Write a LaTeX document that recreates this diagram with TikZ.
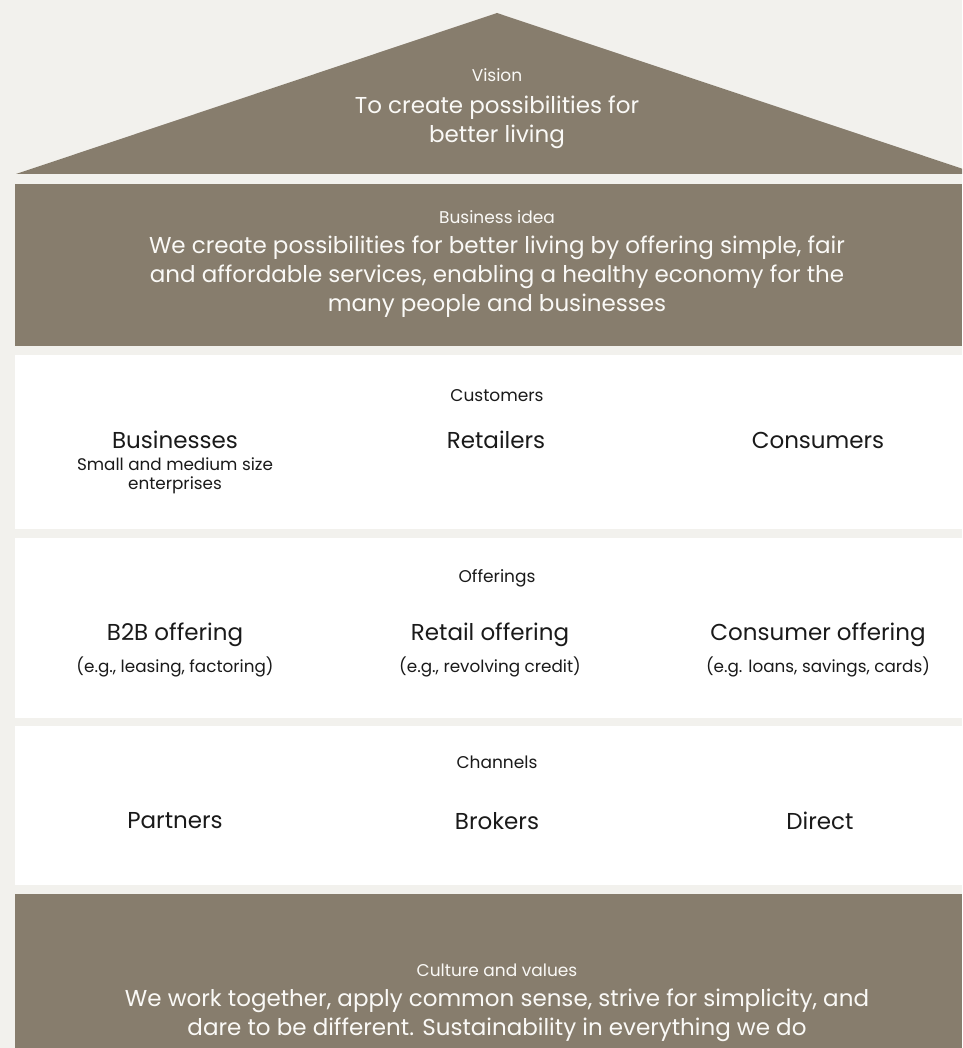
\documentclass[tikz,border=0pt]{standalone}
\usepackage{fontspec}
\setmainfont{Poppins}
\definecolor{bg}{HTML}{F2F1ED}
\definecolor{brown}{HTML}{877D6D}
\definecolor{ink}{HTML}{1A1A1A}
\definecolor{light}{HTML}{FAF9F6}
\begin{document}
\begin{tikzpicture}[x=1pt,y=-1pt,
  band/.style={fill=brown,draw=none},
  whiteband/.style={fill=white,draw=none},
  lbl/.style={inner sep=0pt,font=\fontsize{17}{20}\selectfont},
  big/.style={inner sep=0pt,align=center,font=\fontsize{23}{29}\selectfont},
  item/.style={inner sep=0pt,align=center,font=\fontsize{23}{29}\selectfont,text=ink},
  sub/.style={inner sep=0pt,align=center,font=\fontsize{16.8}{19.5}\selectfont,text=ink}]
\fill[bg] (0,0) rectangle (962,1048);
\useasboundingbox (0,0) rectangle (962,1048);
\begin{scope}
\clip (0,0) rectangle (962,1048);
\fill[brown] (16,174) -- (497,13) -- (978,174) -- cycle;
\end{scope}
\fill[band] (15,184) rectangle (962,346);
\fill[whiteband] (15,355) rectangle (962,529);
\fill[whiteband] (15,538) rectangle (962,718);
\fill[whiteband] (15,726) rectangle (962,885);
\fill[band] (15,894) rectangle (962,1048);
% Vision
\node[lbl,text=light] (vislbl) at (497,75) {Vision};
\node[big,text=light] (vis) at (497,122) {To create possibilities for\\better living};
% Business idea
\node[lbl,text=light] (bilbl) at (497,217) {Business idea};
\node[big,text=light] (bi) at (497,277) {We create possibilities for better living by offering simple, fair\\and affordable services, enabling a healthy economy for the\\many people and businesses};
% Customers
\node[lbl,text=ink] (custlbl) at (497,396) {Customers};
\node[item] (bus) at (175,440) {Businesses};
\node[sub] (busd) at (175,476) {Small and medium size\\enterprises};
\node[item] (ret) at (496,440) {Retailers};
\node[item] (con) at (818,440) {Consumers};
% Offerings
\node[lbl,text=ink] (offlbl) at (497,578) {Offerings};
\node[item] (b2b) at (175,635) {B2B offering};
\node[sub] (b2bd) at (175,667) {(e.g., leasing, factoring)};
\node[item] (reto) at (490,635) {Retail offering};
\node[sub] (retod) at (490,667) {(e.g., revolving credit)};
\node[item] (cono) at (818,635) {Consumer offering};
\node[sub] (conod) at (818,667) {(e.g. loans, savings, cards)};
% Channels
\node[lbl,text=ink] (chlbl) at (497,762) {Channels};
\node[item] (par) at (175,821) {Partners};
\node[item] (bro) at (497,821) {Brokers};
\node[item] (dir) at (820,821) {Direct};
% Culture
\node[lbl,text=light] (cullbl) at (497,970) {Culture and values};
\node[big,text=light] (cul) at (497,1015) {We work together, apply common sense, strive for simplicity, and\\dare to be different. Sustainability in everything we do};
\end{tikzpicture}
\end{document}
